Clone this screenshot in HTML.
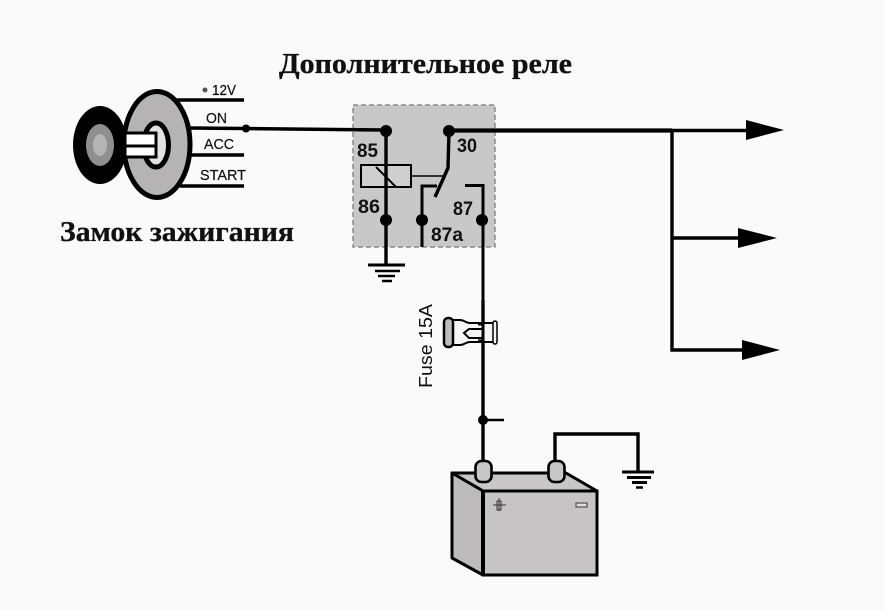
<!DOCTYPE html>
<html><head><meta charset="utf-8"><style>
html,body{margin:0;padding:0;background:#fafafa}
svg{display:block;filter:blur(.35px)}
.s{font-family:"Liberation Sans",sans-serif;fill:#111}
.t{font-family:"Liberation Serif",serif;font-weight:bold;fill:#111;font-size:28px;stroke:#111;stroke-width:.3}
.b{font-weight:bold;font-size:19.500px}
.w{fill:none;stroke:#000;stroke-width:3.400}
</style></head><body>
<svg width="884" height="610" viewBox="0 0 884 610" xmlns="http://www.w3.org/2000/svg">
<rect width="884" height="610" fill="#fafafa"/>
<text class="t" x="279" y="73" textLength="293" lengthAdjust="spacingAndGlyphs">Дополнительное реле</text>
<text class="t" x="60" y="241" textLength="234" lengthAdjust="spacingAndGlyphs">Замок зажигания</text>

<!-- ignition -->
<g class="w" stroke-width="3">
<path d="M177 100H244M185 155H244M180 186H244"/>
</g>
<ellipse cx="100" cy="145" rx="27" ry="39" fill="#000"/>
<ellipse cx="100" cy="145" rx="14" ry="21" fill="#8f8f8f"/>
<ellipse cx="100" cy="145" rx="7" ry="11" fill="#b5b5b5"/>
<ellipse cx="157" cy="144.500" rx="33" ry="53" fill="#b5b3b3" stroke="#000" stroke-width="5"/>
<ellipse cx="156" cy="145" rx="12.500" ry="22" fill="#e2e2e2" stroke="#000" stroke-width="5"/>
<rect x="125" y="133" width="31" height="24" fill="#fff" stroke="#000" stroke-width="3"/>
<path d="M125 146H156" stroke="#000" stroke-width="3"/>
<circle cx="205" cy="90" r="2.500" fill="#555"/>
<g class="s" font-size="14.500" stroke="#111" stroke-width=".2">
<text x="212" y="95" textLength="24" lengthAdjust="spacingAndGlyphs">12V</text>
<text x="206" y="123" textLength="21" lengthAdjust="spacingAndGlyphs">ON</text>
<text x="204" y="149" textLength="30" lengthAdjust="spacingAndGlyphs">ACC</text>
<text x="200" y="180" textLength="46" lengthAdjust="spacingAndGlyphs">START</text>
</g>

<!-- relay -->
<rect x="353" y="105" width="142" height="142" fill="#c9c8c8" stroke="#8a8a8a" stroke-width="1.500" stroke-dasharray="5 3"/>
<path d="M190 128L386 130" stroke="#000" stroke-width="3.500" fill="none"/>
<circle cx="246" cy="128.500" r="4" fill="#000"/>
<rect x="361" y="165" width="50" height="22" fill="#cfcfcf" stroke="#000" stroke-width="2"/>
<path d="M376 167L396 187" stroke="#000" stroke-width="2"/>
<path d="M411 176H443" stroke="#000" stroke-width="1.500" fill="none"/>
<g class="w">
<path d="M386 130V265"/>
<path d="M449 130.500H672" stroke-width="4.200"/>
<path d="M672 130.500H750"/>
<path d="M449 131L448 168L435 197"/>
<path d="M422 247V186H437" stroke-width="3"/>
<path d="M465 185.500H483V415" stroke-width="3"/>
</g>
<g fill="#000">
<circle cx="386" cy="131" r="6"/><circle cx="449" cy="131" r="6"/>
<circle cx="386" cy="220" r="6"/><circle cx="422" cy="220" r="6"/><circle cx="482" cy="220" r="6"/>
</g>
<g class="s b">
<text x="357" y="157" textLength="21" lengthAdjust="spacingAndGlyphs">85</text>
<text x="457" y="152" textLength="20" lengthAdjust="spacingAndGlyphs">30</text>
<text x="358" y="213" textLength="22" lengthAdjust="spacingAndGlyphs">86</text>
<text x="453" y="215" textLength="20" lengthAdjust="spacingAndGlyphs">87</text>
<text x="431" y="241" textLength="32" lengthAdjust="spacingAndGlyphs">87a</text>
</g>
<!-- relay ground -->
<g stroke="#000">
<path d="M368 265H405" stroke-width="3"/>
<path d="M375 271H400" stroke-width="2.500"/>
<path d="M378 276H395" stroke-width="2.500"/>
<path d="M382 281H392" stroke-width="2.500"/>
</g>

<!-- outputs -->
<g class="w">
<path d="M672 130V350H750"/>
<path d="M672 238H745"/>
</g>
<g fill="#000">
<path d="M746 120L784 130L746 140Z"/>
<path d="M738 228L777 238L738 248Z"/>
<path d="M742 340L780 350L742 360Z"/>
</g>

<!-- fuse -->
<text class="s" font-size="18" transform="translate(432 388) rotate(-90)" textLength="84" lengthAdjust="spacingAndGlyphs">Fuse 15A</text>
<path d="M483 300V470" class="w" stroke-width="3"/>
<circle cx="483" cy="420" r="5" fill="#000"/>
<path d="M483 420H504" stroke="#000" stroke-width="2.500"/>
<path d="M452 320H460C464 320 466 323 470 323H494V342H470C466 342 464 345 460 345H452Z" fill="#f6f6f6" stroke="#000" stroke-width="2"/>
<rect x="444" y="318" width="9" height="29" rx="4" fill="#bdbdbd" stroke="#000" stroke-width="2.500"/>
<rect x="493" y="321" width="4" height="23" rx="2" fill="#f6f6f6" stroke="#000" stroke-width="1.500"/>
<path d="M483 329H469L464 333L469 338H483" fill="none" stroke="#000" stroke-width="2"/>
<path d="M478 324H482M478 341H482" stroke="#000" stroke-width="3"/>
<path d="M483 300V345" stroke="#000" stroke-width="3"/>

<!-- battery -->
<path d="M555 470V434H638V472" class="w" stroke-width="3"/>
<g stroke="#000">
<path d="M622 472H654" stroke-width="3"/>
<path d="M627 477.500H651" stroke-width="3"/>
<path d="M632 482.500H647" stroke-width="3"/>
<path d="M636 487.500H643" stroke-width="2.500"/>
</g>
<path d="M452 473H566L597 491H483Z" fill="#c8c6c6" stroke="#000" stroke-width="3" stroke-linejoin="round"/>
<path d="M452 473L483 491V575L452 558Z" fill="#bdbbbb" stroke="#000" stroke-width="3" stroke-linejoin="round"/>
<rect x="483" y="491" width="114" height="84" fill="#c6c4c4" stroke="#000" stroke-width="3"/>
<path d="M483 491V575" stroke="#000" stroke-width="4"/>
<rect x="475.500" y="461" width="16" height="21" rx="6" fill="#c8c6c6" stroke="#000" stroke-width="2.600"/>
<rect x="548.500" y="461" width="16" height="21" rx="6" fill="#c8c6c6" stroke="#000" stroke-width="2.600"/>
<rect x="576" y="503" width="11" height="4" fill="#ddd" stroke="#333" stroke-width="1"/>
<path d="M493 505H506M499 498V511" stroke="#333" stroke-width="1"/>
<rect x="497" y="501" width="4" height="9" fill="none" stroke="#333" stroke-width="1"/>
</svg>
</body></html>
